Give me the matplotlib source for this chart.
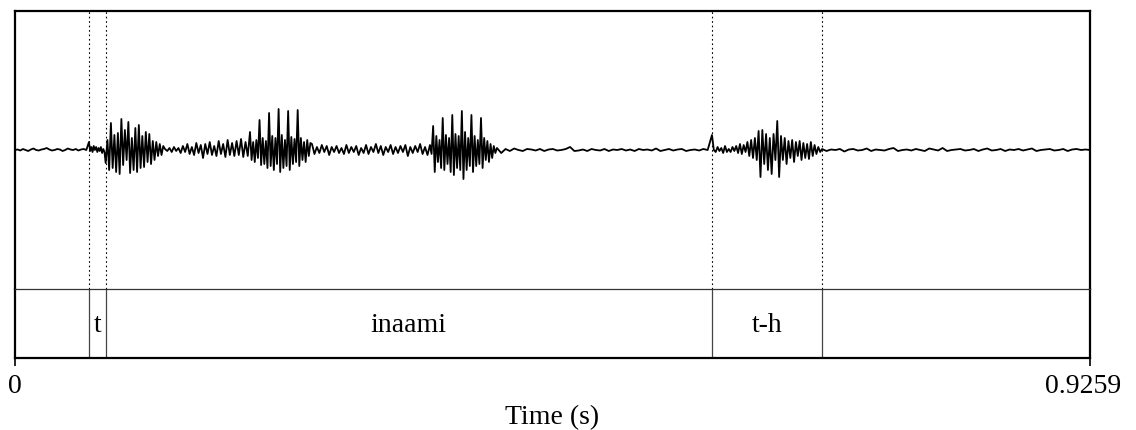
import matplotlib
matplotlib.use("Agg")
import matplotlib.pyplot as plt
import matplotlib.transforms as mtransforms
import numpy as np

plt.rcParams['font.family'] = ['Liberation Serif', 'DejaVu Serif']

duration = 0.9259

# waveform: (start s, end s, successive extremes)
seg_times = [(0.0, 0.0637), (0.0637, 0.0781), (0.0781, 0.1292), (0.1292, 0.2024),
             (0.2024, 0.2558), (0.2558, 0.3574), (0.3574, 0.4151), (0.4151, 0.6003),
             (0.6003, 0.6951), (0.6951, 0.9259)]
seg_a = [0, 0.5, -0.5, 1, 0, -1, 0.5, 1.5, 0, -0.5, 0.5, 1, 2, 0.5, -0.5, 0, 1, 0.5,
         -1, 0, 1.5, 0.5, 0, 1, -0.5, 0.5, 1, 0]
seg_b = [8, -1, 3, -2, 4, 0, 3, -2, 2, -1, 3, -3, 1, -2]
seg_c = [-13, 10, -20, 27, -18, 15, -22, 17, -24, 31, -15, 20, -10, 28, -23, 12, -20,
         22, -22, 25, -18, 14, -17, 18, -12, 16, -14, 9, -10, 8, -6, 6, -5, 4]
seg_d = [1, -1, 2, -2, 3, -1, 2, -3, 4, -2, 6, -4, 3, -5, 7, -3, 5, -8, 6, -4, 8, -5,
         4, -6, 9, -4, 6, -7, 10, -5, 7, -6, 9, -5, 11, -7, 8, -6]
seg_e = [18, -10, 8, -12, 10, -8, 30, -15, 12, -14, 9, -18, 37, -16, 14, -20, 12, -14,
         41, -22, 15, -18, 10, -16, 39, -20, 13, -14, 11, -12, 40, -16, 12, -10, 8, -12,
         10, -6, 7]
seg_f = [6, -4, 3, -3, 5, -2, 4, -5, 3, -2, 4, -3, 2, -4, 5, -3, 3, -2, 4, -5, 2, -3,
         5, -4, 3, -2, 6, -3, 4, -5, 3, -2, 5, -4, 3, -3, 4, -2, 5, -6, 3, -3, 4, -2,
         6, -4, 3, -5]
seg_g = [5, -4, 24, -22, 14, -12, 10, -18, 32, -20, 15, -14, 12, -22, 35, -25, 16, -18,
         14, -20, 39, -29, 18, -20, 12, -16, 35, -22, 14, -16, 10, -14, 32, -18, 12,
         -10, 9, -12, 6, -8, 4, -3]
seg_h = [2, -3, 1, -1, 1.5, 0, -1, 1, 0.5, -0.5, 1, -1, 0.5, 1, -0.5, 0, 1, 3, -1,
         -0.5, 0.5, -1, 1, 0, -0.5, 1, -1, 0.5, 0, 1, -0.5, 0.5, -1, 1, 0, 0.5, -0.5,
         1.5, -1, 0, 1, -0.5, 0.5, 1, -1, 0, 0.5, -0.5, 1, 0]
seg_i = [15, 0, -2, 3, -1, 2, -3, 4, -2, 1, -2, 3, -1, 4, -3, 6, -4, 5, -2, 8, -6, 10,
         -8, 12, -10, 19, -27, 20, -14, 16, -20, 12, -24, 16, -10, 29, -27, 14, -10, 12,
         -14, 9, -8, 10, -12, 8, -6, 9, -10, 7, -8, 6, -9, 8, -6, 5, -4, 3, -2]
seg_j = [1, -1, 0.5, 0, 1, -1.5, 0.5, 1, -0.5, 0, 1.5, -1, 0.5, 0, -0.5, 1, 2, -1, 0,
         0.5, -0.5, 1, 0, -1, 1.5, 0.5, -0.5, 2, -1, 0, 0.5, 1, -0.5, 0, 1, -1, 0.5,
         1.5, -0.5, 0, 1, -1, 0.5, 0, 1, -0.5, 0.5, 1.5, -1, 0, 0.5, 1, -0.5, 0, 1,
         -1, 0.5, 1, 0, 0.5]
segments = [seg_a, seg_b, seg_c, seg_d, seg_e, seg_f, seg_g, seg_h, seg_i, seg_j]

boundaries = [0.0640, 0.0781, 0.6003, 0.6951]
intervals = [(0.0, 0.0640, ""), (0.0640, 0.0781, "t"), (0.0781, 0.6003, "inaami"),
             (0.6003, 0.6951, "t-h"), (0.6951, duration, "")]

t = []
y = []
for (t0, t1), vals in zip(seg_times, segments):
    t.extend(np.linspace(t0, t1, len(vals), endpoint=False))
    y.extend(vals)
t.append(duration)
y.append(0)

fig = plt.figure(figsize=(11.36, 4.31), dpi=100)
left = 15 / 1136
width = 1075 / 1136
ax = fig.add_axes([left, 141 / 431, width, 278 / 431])
ax2 = fig.add_axes([left, 72 / 431, width, 69 / 431])
ax2.patch.set_alpha(0)

ax.plot(t, y, color="black", lw=1.3)
ax.set_xlim(0, duration)
ax.set_ylim(-139, 139)
for b in boundaries:
    ax.axvline(b, color="black", lw=0.8, ls=(0, (1.5, 2.5)))
ax.set_xticks([])
ax.set_yticks([])
for s in ["left", "right", "top"]:
    ax.spines[s].set_linewidth(1.6)
ax.spines["bottom"].set_visible(False)

ax2.set_xlim(0, duration)
ax2.set_ylim(0, 1)
for b in boundaries:
    ax2.axvline(b, color="#444444", lw=0.9)
for t0, t1, lab in intervals:
    if lab:
        ax2.text((t0 + t1) / 2, 0.48, lab, ha="center", va="center", fontsize=20)
ax2.spines["top"].set_linewidth(0.9)
ax2.spines["top"].set_color("#333333")
for s in ["left", "right", "bottom"]:
    ax2.spines[s].set_linewidth(1.6)
ax2.set_yticks([])
ax2.set_xticks([0, duration])
ax2.set_xticklabels(["0", "0.9259"], fontsize=20)
ax2.tick_params(axis="x", direction="out", length=6, width=1.2, pad=5)
ax2.set_xlabel("Time (s)", fontsize=20, labelpad=4)

# the end label sits a little left of its tick in the original
shift = mtransforms.ScaledTranslation(-7 / 100, 0, fig.dpi_scale_trans)
lbl = ax2.get_xticklabels()[1]
lbl.set_transform(lbl.get_transform() + shift)

fig.savefig("out.png", dpi=100)
